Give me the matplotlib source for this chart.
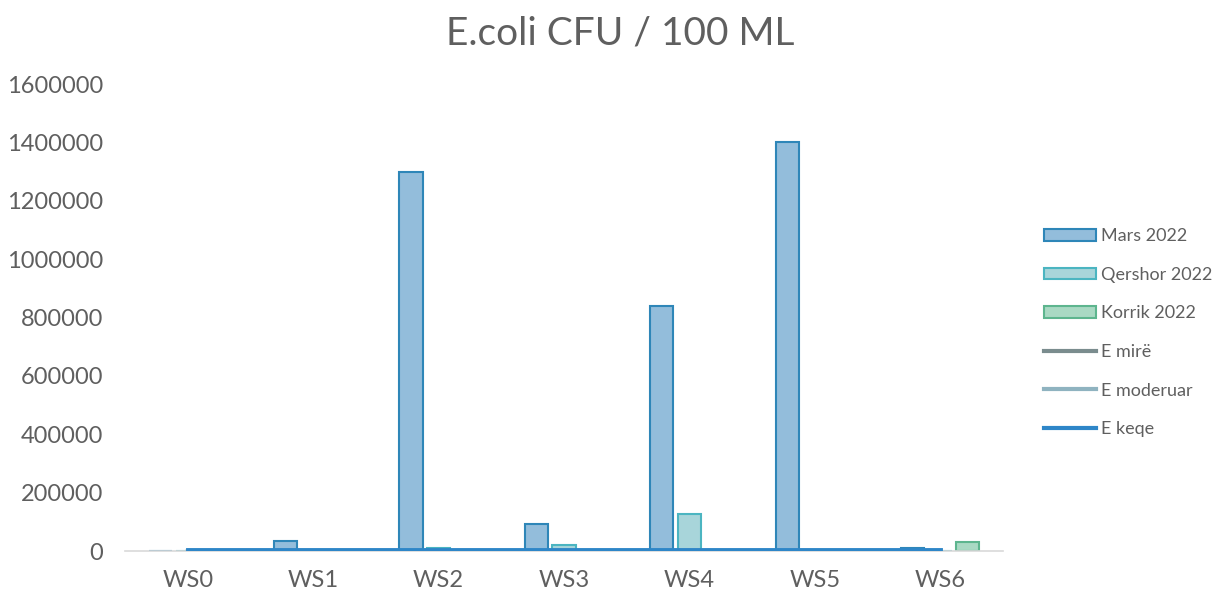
import numpy as np
import matplotlib
matplotlib.use("Agg")
import matplotlib.pyplot as plt
from matplotlib.lines import Line2D
from matplotlib.patches import Patch

plt.rcParams['font.family'] = ['Lato', 'DejaVu Sans']

stations = ["WS0", "WS1", "WS2", "WS3", "WS4", "WS5", "WS6"]
mars = [0, 35000, 1300000, 93000, 840000, 1400000, 11000]
qershor = [0, 0, 9000, 19000, 128000, 0, 1000]
korrik = [0, 0, 0, 0, 0, 0, 32000]
e_mire = [500] * 7
e_moderuar = [1000] * 7
e_keqe = [2500] * 7
yticks = [0, 200000, 400000, 600000, 800000, 1000000, 1200000, 1400000, 1600000]

txt = "#5f5f5f"
x = np.arange(len(stations))
w = 0.185
off = 0.22

fig = plt.figure(figsize=(12.2, 5.93), dpi=100)
ax = fig.add_axes([0.1025, 0.0708, 0.7195, 0.7875])

ax.bar(x - off, mars, w, color="#93BDDB", edgecolor="#2E86B8", linewidth=1.5, zorder=2)
ax.bar(x, qershor, w, color="#A8D5DA", edgecolor="#4BB5C1", linewidth=1.5, zorder=2)
ax.bar(x + off, korrik, w, color="#A9D9C3", edgecolor="#5DB58E", linewidth=1.5, zorder=2)

ax.plot(x, e_mire, color="#7A8C8E", lw=3, zorder=3)
ax.plot(x, e_moderuar, color="#8FB3C0", lw=3, zorder=3)
ax.plot(x, e_keqe, color="#2E86C8", lw=3.5, zorder=4)

ax.set_xlim(-0.5, 6.5)
ax.set_ylim(0, 1600000)
ax.set_xticks(x)
ax.set_xticklabels(stations)
ax.set_yticks(yticks)
ax.set_yticklabels([str(v) for v in yticks])
ax.tick_params(length=0, labelsize=17, colors=txt)
ax.tick_params(axis='x', pad=14)
ax.tick_params(axis='y', pad=16)
for s in ["top", "right", "left"]:
    ax.spines[s].set_visible(False)
ax.spines["bottom"].set_color("#D9D9D9")
ax.spines["bottom"].set_linewidth(1.2)

fig.text(0.508, 0.943, "E.coli CFU / 100 ML", ha="center", va="center",
         fontsize=28, color=txt)

handles = [
    Patch(facecolor="#93BDDB", edgecolor="#2E86B8", linewidth=1.5),
    Patch(facecolor="#A8D5DA", edgecolor="#4BB5C1", linewidth=1.5),
    Patch(facecolor="#A9D9C3", edgecolor="#5DB58E", linewidth=1.5),
    Line2D([], [], color="#7A8C8E", lw=3),
    Line2D([], [], color="#8FB3C0", lw=3),
    Line2D([], [], color="#2E86C8", lw=3),
]
labels = ["Mars 2022", "Qershor 2022", "Korrik 2022", "E mirë", "E moderuar", "E keqe"]
leg = fig.legend(handles, labels, loc="center left", bbox_to_anchor=(0.85, 0.439),
                 frameon=False, fontsize=13, handlelength=2.85, handleheight=0.6,
                 handletextpad=0.3, labelspacing=1.25, labelcolor=txt,
                 borderaxespad=0)

fig.savefig("out.png", dpi=100)
